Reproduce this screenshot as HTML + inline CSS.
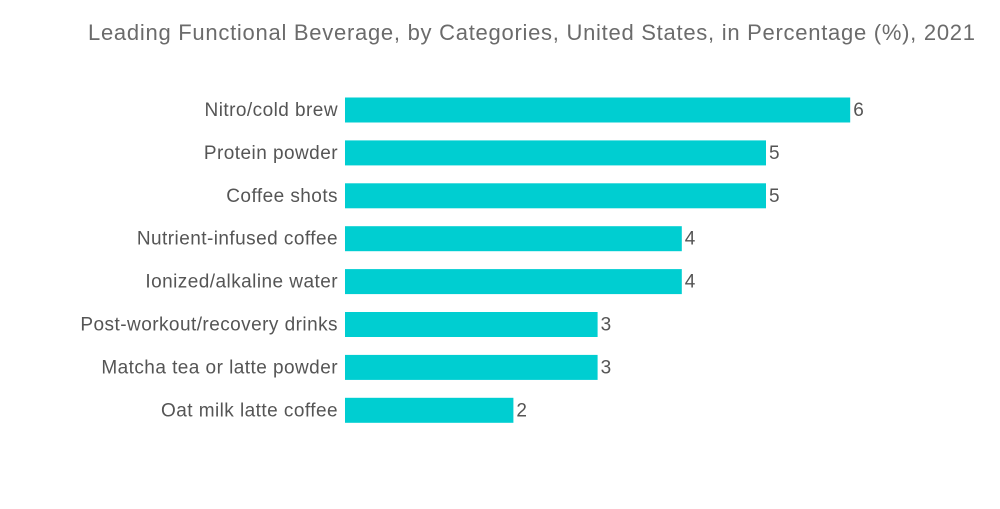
<!DOCTYPE html>
<html><head><meta charset="utf-8"><style>
body{margin:0;background:#fff;width:1000px;height:504px;overflow:hidden;font-family:"Liberation Sans",sans-serif}
</style></head><body>
<svg width="1000" height="504">
<text x="88" y="40" textLength="887" lengthAdjust="spacing" font-size="22" fill="#6b6b6b">Leading Functional Beverage, by Categories, United States, in Percentage (%), 2021</text>
<g id="bars"></g>
</svg>
<script>
const categories=["Nitro/cold brew","Protein powder","Coffee shots","Nutrient-infused coffee","Ionized/alkaline water","Post-workout/recovery drinks","Matcha tea or latte powder","Oat milk latte coffee"];
const values=[6,5,5,4,4,3,3,2];
const x=v=>345+v*84.2;
const y=i=>110+i*42.9;
const g=document.getElementById('bars');
const ns="http://www.w3.org/2000/svg";
categories.forEach((c,i)=>{
 const r=document.createElementNS(ns,'rect');
 r.setAttribute('x',x(0));r.setAttribute('y',y(i)-12.5);
 r.setAttribute('width',x(values[i])-x(0));r.setAttribute('height',25);
 r.setAttribute('fill','#00ced1');
 
 
 g.appendChild(r);
 const t=document.createElementNS(ns,'text');
 t.setAttribute('x',338);t.setAttribute('y',y(i)+6);
 t.setAttribute('text-anchor','end');t.setAttribute('font-size','19');t.setAttribute('letter-spacing','0.45');t.setAttribute('fill','#555');
 t.textContent=c;
 
 
 g.appendChild(t);
 const v=document.createElementNS(ns,'text');
 v.setAttribute('x',x(values[i])+3);v.setAttribute('y',y(i)+6);
 v.setAttribute('font-size','19');v.setAttribute('fill','#555');
 v.textContent=values[i];
 
 
 g.appendChild(v);
});
</script>
</body></html>
